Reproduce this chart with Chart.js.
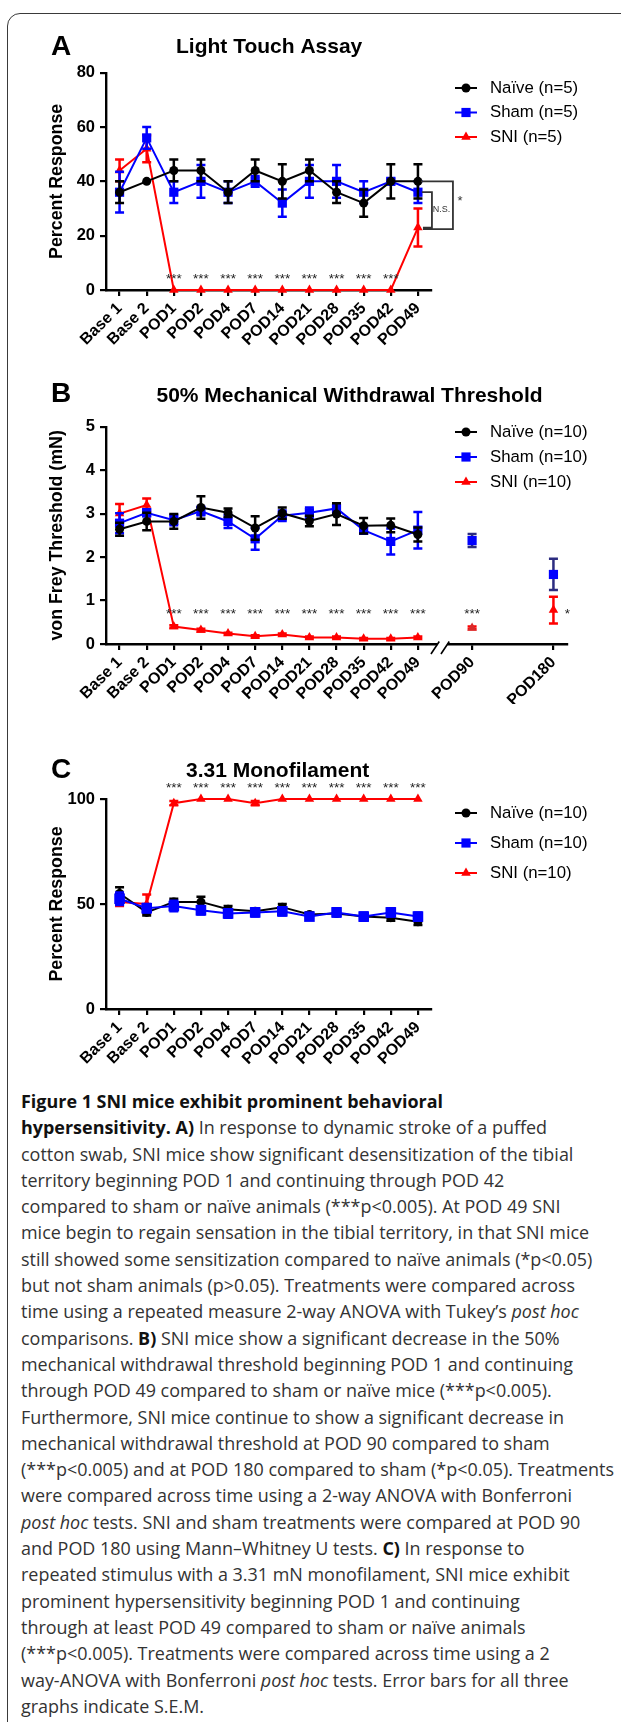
<!DOCTYPE html>
<html>
<head>
<meta charset="utf-8">
<title>Figure 1</title>
<script src="https://cdn.jsdelivr.net/npm/chart.js@4.4.1/dist/chart.umd.min.js"></script>
<style>
  html, body { margin: 0; padding: 0; background: #fff; }
  body { position: relative; width: 621px; height: 1722px; overflow: hidden; }
  #frame { position: absolute; left: 7px; top: 13px; width: 720px; height: 1800px;
           border: 1.5px solid #3a3a3a; border-radius: 13px; }
  canvas { position: absolute; left: 0; }
  #caption { position: absolute; left: 21px; top: 1088px; font-family: "Open Sans", sans-serif;
             font-size: 18.5px; line-height: 26.3px; color: #333; white-space: nowrap;
             transform-origin: 0 0; }
  #caption .ln { display: block; width: max-content; }
  #caption b { color: #111; }
</style>
</head>
<body>
<div id="frame"></div>
<canvas id="chartA" width="621" height="360" style="top:0"></canvas>
<canvas id="chartB" width="621" height="370" style="top:355px"></canvas>
<canvas id="chartC" width="621" height="365" style="top:715px"></canvas>
<div id="caption">
<span class="ln"><b>Figure 1 SNI mice exhibit prominent behavioral</b></span>
<span class="ln"><b>hypersensitivity. A)</b> In response to dynamic stroke of a puffed</span>
<span class="ln">cotton swab, SNI mice show significant desensitization of the tibial</span>
<span class="ln">territory beginning POD 1 and continuing through POD 42</span>
<span class="ln">compared to sham or naïve animals (***p&lt;0.005). At POD 49 SNI</span>
<span class="ln">mice begin to regain sensation in the tibial territory, in that SNI mice</span>
<span class="ln">still showed some sensitization compared to naïve animals (*p&lt;0.05)</span>
<span class="ln">but not sham animals (p&gt;0.05). Treatments were compared across</span>
<span class="ln">time using a repeated measure 2-way ANOVA with Tukey’s <i>post hoc</i></span>
<span class="ln">comparisons. <b>B)</b> SNI mice show a significant decrease in the 50%</span>
<span class="ln">mechanical withdrawal threshold beginning POD 1 and continuing</span>
<span class="ln">through POD 49 compared to sham or naïve mice (***p&lt;0.005).</span>
<span class="ln">Furthermore, SNI mice continue to show a significant decrease in</span>
<span class="ln">mechanical withdrawal threshold at POD 90 compared to sham</span>
<span class="ln">(***p&lt;0.005) and at POD 180 compared to sham (*p&lt;0.05). Treatments</span>
<span class="ln">were compared across time using a 2-way ANOVA with Bonferroni</span>
<span class="ln"><i>post hoc</i> tests. SNI and sham treatments were compared at POD 90</span>
<span class="ln">and POD 180 using Mann–Whitney U tests. <b>C)</b> In response to</span>
<span class="ln">repeated stimulus with a 3.31 mN monofilament, SNI mice exhibit</span>
<span class="ln">prominent hypersensitivity beginning POD 1 and continuing</span>
<span class="ln">through at least POD 49 compared to sham or naïve animals</span>
<span class="ln">(***p&lt;0.005). Treatments were compared across time using a 2</span>
<span class="ln">way-ANOVA with Bonferroni <i>post hoc</i> tests. Error bars for all three</span>
<span class="ln">graphs indicate S.E.M.</span>
</div>
<script>
// ---- data ----
const catsA = ['Base 1', 'Base 2', 'POD1', 'POD2', 'POD4', 'POD7', 'POD14', 'POD21', 'POD28', 'POD35', 'POD42', 'POD49'];
const yTicksA = [0, 20, 40, 60, 80];
const naiveA = [36, 40, 44, 44, 36, 44, 40, 44, 36, 32, 40, 40];
const naiveAErr = [4, 0, 4, 4, 4, 4, 6.3, 4, 4, 5, 6.3, 6.3];
const shamA = [36, 56, 36, 40, 36, 40, 32, 40, 40, 36, 40, 36];
const shamAErr = [7.5, 4, 4, 6, 4, 2, 5, 6, 6, 4, 1, 4];
const sniA = [44, 52, 0, 0, 0, 0, 0, 0, 0, 0, 0, 23];
const sniAErr = [4, 5, 0, 0, 0, 0, 0, 0, 0, 0, 0, 7];
const starsA = [2, 3, 4, 5, 6, 7, 8, 9, 10];

const catsB = ['Base 1', 'Base 2', 'POD1', 'POD2', 'POD4', 'POD7', 'POD14', 'POD21', 'POD28', 'POD35', 'POD42', 'POD49', 'POD90', 'POD180'];
const xPosB = [0, 1, 2, 3, 4, 5, 6, 7, 8, 9, 10, 11, 13, 16];
const yTicksB = [0, 1, 2, 3, 4, 5];
const naiveB = [2.64, 2.82, 2.82, 3.14, 3.02, 2.67, 3.01, 2.83, 2.99, 2.72, 2.73, 2.52];
const naiveBErr = [0.15, 0.2, 0.17, 0.26, 0.1, 0.27, 0.13, 0.12, 0.25, 0.18, 0.16, 0.16];
const shamB = [2.78, 3.02, 2.85, 3.06, 2.82, 2.42, 2.95, 3.02, 3.12, 2.62, 2.36, 2.62, 2.38, 1.6];
const shamBErr = [0.23, 0.08, 0.12, 0.1, 0.15, 0.25, 0.12, 0.12, 0.1, 0.08, 0.3, 0.42, 0.15, 0.36];
const sniB = [3.0, 3.2, 0.4, 0.32, 0.24, 0.18, 0.22, 0.15, 0.15, 0.12, 0.12, 0.15, 0.37, 0.78];
const sniBErr = [0.22, 0.15, 0.03, 0.03, 0.02, 0.02, 0.02, 0.02, 0.02, 0.02, 0.02, 0.02, 0.03, 0.31];
const starsB = [2, 3, 4, 5, 6, 7, 8, 9, 10, 11, 13];
const breakB = 11.9;

const catsC = catsA;
const yTicksC = [0, 50, 100];
const naiveC = [55, 46, 51, 51, 47.5, 46.5, 48.5, 45, 45.5, 44, 43.5, 41.5];
const naiveCErr = [3, 1.5, 1.5, 2.5, 1.5, 1.5, 1.5, 1, 1, 1.5, 1.5, 1.5];
const shamC = [52.5, 48, 49, 47, 45.5, 46, 46.5, 44, 46, 44, 46, 44];
const shamCErr = [3, 2, 2.5, 2, 2, 2, 2, 1.5, 2, 2, 2, 2];
const sniC = [51, 50, 98, 100, 100, 98, 100, 100, 100, 100, 100, 100];
const sniCErr = [2, 4.5, 1, 0, 0, 1, 0, 0, 0, 0, 0, 0];
const starsC = [2, 3, 4, 5, 6, 7, 8, 9, 10, 11];

// ---- styles ----
const FONT = 'Arial, "Liberation Sans", Helvetica, sans-serif';
Chart.defaults.font.family = FONT;
Chart.defaults.color = '#000';

const SERIES = [
  { color: '#000000', style: 'circle', r: 4.5 },
  { color: '#0000ff', style: 'rect', r: 6.5 },
  { color: '#ff0000', style: 'triangle', r: 5.5 }
];

function drawMarker(ctx, style, x, y, r, color) {
  ctx.fillStyle = color;
  ctx.beginPath();
  if (style === 'circle') {
    ctx.arc(x, y, r, 0, Math.PI * 2);
  } else if (style === 'rect') {
    const s = r * Math.SQRT1_2;
    ctx.rect(x - s, y - s, 2 * s, 2 * s);
  } else {
    ctx.moveTo(x, y - r);
    ctx.lineTo(x + r * 0.866, y + r * 0.5);
    ctx.lineTo(x - r * 0.866, y + r * 0.5);
    ctx.closePath();
  }
  ctx.fill();
}

// error bars under each dataset
const errorBars = {
  id: 'errorBars',
  beforeDatasetDraw(chart, args) {
    const ds = chart.data.datasets[args.index];
    const ys = chart.scales.y;
    const ctx = chart.ctx;
    ctx.save();
    ctx.lineWidth = 2.5;
    args.meta.data.forEach((pt, i) => {
      const d = ds.data[i];
      const isObj = d !== null && typeof d === 'object';
      const v = isObj ? d.y : d;
      const e = isObj ? d.e : ds.err[i];
      if (v === null || v === undefined || !e) return;
      const top = ys.getPixelForValue(v + e);
      const bot = ys.getPixelForValue(v - e);
      ctx.strokeStyle = ds.errColor ? ds.errColor(isObj ? d.x : i) : ds.borderColor;
      ctx.beginPath();
      ctx.moveTo(pt.x, top); ctx.lineTo(pt.x, bot);
      ctx.moveTo(pt.x - 4.5, top); ctx.lineTo(pt.x + 4.5, top);
      ctx.moveTo(pt.x - 4.5, bot); ctx.lineTo(pt.x + 4.5, bot);
      ctx.stroke();
    });
    ctx.restore();
  }
};

// panel letter, title, legend and significance stars
const figure = {
  id: 'figure',
  afterDraw(chart, args, o) {
    const ctx = chart.ctx, xs = chart.scales.x, ys = chart.scales.y;
    ctx.save();
    ctx.fillStyle = '#000';
    ctx.textAlign = 'left';
    ctx.textBaseline = 'alphabetic';
    ctx.font = 'bold 28px ' + FONT;
    ctx.fillText(o.letter, 51, o.letterY);
    ctx.font = 'bold 21px ' + FONT;
    ctx.fillText(o.title, o.titleX, o.titleY);

    ctx.font = '16.8px ' + FONT;
    ctx.textBaseline = 'middle';
    o.legend.forEach((txt, k) => {
      const s = SERIES[k], ly = o.legendY[k];
      ctx.strokeStyle = s.color;
      ctx.lineWidth = 2;
      ctx.beginPath(); ctx.moveTo(455, ly); ctx.lineTo(477, ly); ctx.stroke();
      drawMarker(ctx, s.style, 466, ly, s.r, s.color);
      ctx.fillStyle = '#000';
      ctx.fillText(txt, 490, ly);
    });

    ctx.font = '13.5px ' + FONT;
    ctx.fillStyle = '#222';
    ctx.textAlign = 'center';
    ctx.textBaseline = 'alphabetic';
    const sy = ys.getPixelForValue(o.starLevel) + 7.5;
    o.stars.forEach(v => ctx.fillText('***', xs.getPixelForValue(v), sy));
    ctx.restore();
  }
};

// N.S. / * brackets at POD49 in panel A
const brackets = {
  id: 'brackets',
  afterDatasetsDraw(chart) {
    const ctx = chart.ctx, xs = chart.scales.x, ys = chart.scales.y;
    const last = catsA.length - 1;
    const px = xs.getPixelForValue(last);
    const yN = ys.getPixelForValue(naiveA[last]);
    const yS = ys.getPixelForValue(shamA[last]);
    const yR = ys.getPixelForValue(sniA[last]);
    ctx.save();
    ctx.strokeStyle = '#333';
    ctx.lineWidth = 1.8;
    ctx.beginPath();
    ctx.moveTo(px + 3, yN); ctx.lineTo(px + 35, yN); ctx.lineTo(px + 35, yR + 1.5); ctx.lineTo(px + 5, yR + 1.5);
    ctx.moveTo(px + 4, yS); ctx.lineTo(px + 14, yS); ctx.lineTo(px + 14, yR); ctx.lineTo(px + 5, yR);
    ctx.stroke();
    ctx.fillStyle = '#333';
    ctx.textAlign = 'center';
    ctx.textBaseline = 'middle';
    ctx.font = '9px ' + FONT;
    ctx.fillText('N.S.', px + 23.5, (yS + yR) / 2);
    ctx.textBaseline = 'alphabetic';
    ctx.font = '13px ' + FONT;
    ctx.fillText('*', px + 42, (yN + yR) / 2 + 0.5);
    ctx.restore();
  }
};

// broken x axis and POD180 star in panel B
const axisBreak = {
  id: 'axisBreak',
  afterDraw(chart) {
    const ctx = chart.ctx, xs = chart.scales.x, ys = chart.scales.y;
    const bx = xs.getPixelForValue(breakB), by = chart.chartArea.bottom;
    ctx.save();
    ctx.fillStyle = '#fff';
    ctx.fillRect(bx - 5, by - 3, 10, 6);
    ctx.strokeStyle = '#000';
    ctx.lineWidth = 1.6;
    ctx.beginPath();
    [-5, 5].forEach(dx => { ctx.moveTo(bx + dx - 6.3, by + 10); ctx.lineTo(bx + dx + 2, by - 2.5); });
    ctx.stroke();
    ctx.fillStyle = '#222';
    ctx.font = '13.5px ' + FONT;
    ctx.textAlign = 'center';
    ctx.fillText('*', xs.getPixelForValue(xPosB[xPosB.length - 1]) + 14, ys.getPixelForValue(0.77) + 7.5);
    ctx.restore();
  }
};

// ---- builders ----
function dataset(k, label, data, err, extra) {
  const s = SERIES[k];
  return Object.assign({
    label, data, err,
    borderColor: s.color, backgroundColor: s.color,
    pointBackgroundColor: s.color, pointBorderColor: s.color,
    pointStyle: s.style, pointRadius: s.r, pointBorderWidth: 0,
    borderWidth: 2, tension: 0, clip: false, order: k, spanGaps: false
  }, extra || {});
}

function gapPoints(vals, errs) {
  const pts = [];
  vals.forEach((v, i) => {
    if (i > 0 && xPosB[i] - xPosB[i - 1] > 1) pts.push({ x: (xPosB[i] + xPosB[i - 1]) / 2, y: null, e: 0 });
    pts.push({ x: xPosB[i], y: v, e: errs[i] });
  });
  return pts;
}

const gridOpts = { drawOnChartArea: false, drawTicks: true, tickLength: 6, color: '#000', lineWidth: 2.2 };
const borderOpts = { display: true, color: '#000', width: 2.4 };
const xTickOpts = { color: '#000', font: { size: 16, weight: 'bold' }, minRotation: 45, maxRotation: 45, autoSkip: false, padding: 3 };

function yAxis(min, max, ticks, title) {
  return {
    min, max,
    afterBuildTicks: s => { s.ticks = ticks.map(v => ({ value: v })); },
    afterFit: s => { s.width = 106; },
    grid: gridOpts,
    border: borderOpts,
    ticks: { color: '#000', font: { size: 16.5, weight: 'bold' }, padding: 5 },
    title: { display: true, text: title, color: '#000', font: { size: 17.8, weight: 'bold' }, padding: { top: 46, bottom: 0 } }
  };
}

function xCategory(labels) {
  return {
    type: 'category', labels, offset: true,
    afterFit: s => { s.height = 60; },
    grid: Object.assign({ offset: false }, gridOpts),
    border: borderOpts,
    ticks: xTickOpts
  };
}

function baseOptions(padding, scales, fig) {
  return {
    responsive: false, animation: false, events: [],
    layout: { padding },
    scales,
    plugins: { legend: { display: false }, tooltip: { enabled: false }, title: { display: false }, figure: fig }
  };
}

// ---- panel A ----
new Chart(document.getElementById('chartA'), {
  type: 'line',
  data: {
    labels: catsA,
    datasets: [
      dataset(0, 'Naïve (n=5)', naiveA, naiveAErr),
      dataset(1, 'Sham (n=5)', shamA, shamAErr),
      dataset(2, 'SNI (n=5)', sniA, sniAErr)
    ]
  },
  options: baseOptions(
    { left: 0, right: 189.5, top: 72.7, bottom: 10 },
    { x: xCategory(catsA), y: yAxis(0, 80, yTicksA, 'Percent Response') },
    { letter: 'A', letterY: 54.5, title: 'Light Touch Assay', titleX: 176, titleY: 52.5,
      legend: ['Naïve (n=5)', 'Sham (n=5)', 'SNI (n=5)'], legendY: [88, 112.5, 137],
      stars: starsA, starLevel: 5.5 }
  ),
  plugins: [errorBars, brackets, figure]
});

// ---- panel B ----
new Chart(document.getElementById('chartB'), {
  type: 'line',
  data: {
    datasets: [
      dataset(0, 'Naïve (n=10)', gapPoints(naiveB, naiveBErr), null),
      dataset(1, 'Sham (n=10)', gapPoints(shamB, shamBErr), null,
        { errColor: x => x > 11 ? '#2c2c80' : '#0000ff' }),
      dataset(2, 'SNI (n=10)', gapPoints(sniB, sniBErr), null,
        { pointBackgroundColor: c => (c.raw && c.raw.x === 13) ? '#d92b2b' : '#ff0000' })
    ]
  },
  options: baseOptions(
    { left: 0, right: 54, top: 71.7, bottom: 21 },
    {
      x: {
        type: 'linear', min: -0.5, max: 16.5,
        afterBuildTicks: s => { s.ticks = xPosB.map(v => ({ value: v })); },
        afterFit: s => { s.height = 60; },
        grid: gridOpts, border: borderOpts,
        ticks: Object.assign({}, xTickOpts, { callback: v => catsB[xPosB.indexOf(v)] })
      },
      y: yAxis(0, 5, yTicksB, 'von Frey Threshold (mN)')
    },
    { letter: 'B', letterY: 46.7, title: '50% Mechanical Withdrawal Threshold', titleX: 156.5, titleY: 46.7,
      legend: ['Naïve (n=10)', 'Sham (n=10)', 'SNI (n=10)'], legendY: [77, 102, 127],
      stars: starsB, starLevel: 0.77 }
  ),
  plugins: [errorBars, axisBreak, figure]
});

// ---- panel C ----
new Chart(document.getElementById('chartC'), {
  type: 'line',
  data: {
    labels: catsC,
    datasets: [
      dataset(0, 'Naïve (n=10)', naiveC, naiveCErr, { order: 1 }),
      dataset(1, 'Sham (n=10)', shamC, shamCErr, { order: 0, pointRadius: 7.5 }),
      dataset(2, 'SNI (n=10)', sniC, sniCErr)
    ]
  },
  options: baseOptions(
    { left: 0, right: 189.5, top: 84, bottom: 11 },
    { x: xCategory(catsC), y: yAxis(0, 100, yTicksC, 'Percent Response') },
    { letter: 'C', letterY: 63, title: '3.31 Monofilament', titleX: 186, titleY: 61.5,
      legend: ['Naïve (n=10)', 'Sham (n=10)', 'SNI (n=10)'], legendY: [98, 128, 158],
      stars: starsC, starLevel: 106.7 }
  ),
  plugins: [errorBars, figure]
});

// squeeze the caption so its widest line fits the printed column
const cap = document.getElementById('caption');
let widest = 0;
cap.querySelectorAll('.ln').forEach(el => { widest = Math.max(widest, el.getBoundingClientRect().width); });
cap.style.transform = 'scaleX(' + (593 / widest).toFixed(4) + ')';
</script>
</body>
</html>
